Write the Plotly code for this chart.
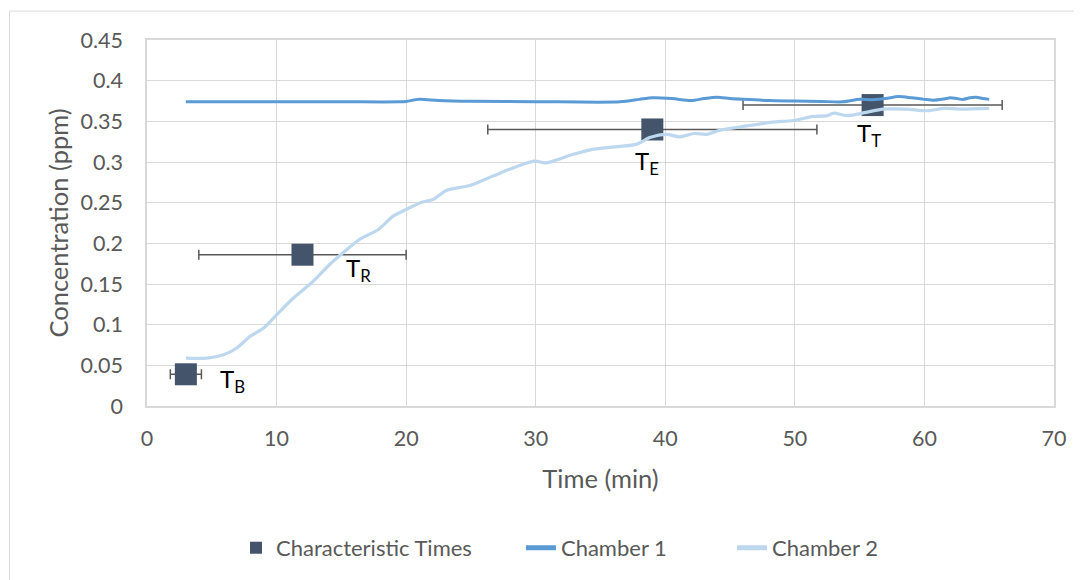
import plotly.graph_objects as go

# Characteristic times (markers with horizontal error bars)
char_t = [3, 12, 39, 56]
char_c = [0.039, 0.186, 0.340, 0.370]
char_err = [1.2, 8, 12.7, 10]
char_labels = ["T<sub>B</sub>", "T<sub>R</sub>", "T<sub>E</sub>", "T<sub>T</sub>"]
label_t = [6.6, 16.3, 38.6, 55.7]
label_c = [0.031, 0.168, 0.300, 0.334]

# Chamber 1
t1 = [3, 5, 10, 15, 19.5, 20, 21, 22.5, 25, 30, 36.5, 38, 39, 40.5, 42, 43, 44, 45, 46,
      48, 50, 52, 53.7, 55, 56, 57, 58, 59, 60, 60.7, 61.5, 62, 62.5, 63, 63.5, 64, 64.5, 65]
c1 = [0.374, 0.374, 0.374, 0.374, 0.374, 0.3745, 0.377, 0.3757, 0.3747, 0.3742, 0.374, 0.377,
      0.379, 0.378, 0.3755, 0.378, 0.3795, 0.378, 0.377, 0.3755, 0.375, 0.3745, 0.374, 0.377,
      0.3765, 0.378, 0.3805, 0.379, 0.377, 0.376, 0.3775, 0.379, 0.378, 0.377, 0.379, 0.3795,
      0.378, 0.377]

# Chamber 2
t2 = [3, 4.6, 5.9, 6.9, 7.95, 9.0, 10.0, 11.3, 12.8, 14.1, 15.4, 16.4, 17.85, 19.0, 20.0,
      21.1, 22.1, 23.1, 24.9, 26.7, 28.3, 29.9, 30.8, 32.9, 34.4, 35.5, 37.8, 38.8, 40.1,
      41.1, 42.2, 43.2, 44.2, 46.3, 48.3, 49.9, 51.4, 52.5, 53.0, 54.0, 55.5, 56.8, 58.6,
      60.2, 61.5, 62.7, 65]
c2 = [0.0588, 0.0588, 0.0629, 0.071, 0.0855, 0.0958, 0.112, 0.1328, 0.153, 0.174, 0.192,
      0.2047, 0.217, 0.2334, 0.2416, 0.25, 0.254, 0.265, 0.271, 0.2827, 0.293, 0.301, 0.299,
      0.3095, 0.3156, 0.3177, 0.322, 0.330, 0.334, 0.331, 0.335, 0.334, 0.339, 0.3444, 0.349,
      0.351, 0.356, 0.357, 0.360, 0.357, 0.361, 0.365, 0.365, 0.363, 0.366, 0.365, 0.366]

x_ticks = [0, 10, 20, 30, 40, 50, 60, 70]
x_ticktext = ["0", "10", "20", "30", "40", "50", "60", "70"]
y_ticks = [0, 0.05, 0.1, 0.15, 0.2, 0.25, 0.3, 0.35, 0.4, 0.45]
y_ticktext = ["0", "0.05", "0.1", "0.15", "0.2", "0.25", "0.3", "0.35", "0.4", "0.45"]

FONT = "Lato"
TXT = "#595959"
GRID = "#D9D9D9"

fig = go.Figure()
fig.add_trace(go.Scatter(
    x=char_t, y=char_c, mode="markers", name="Characteristic Times", legend="legend",
    marker=dict(symbol="square", size=22, color="#44546A"),
    error_x=dict(type="data", array=char_err, symmetric=True, color="#595959",
                 thickness=1.5, width=5),
))
fig.add_trace(go.Scatter(
    x=t1, y=c1, mode="lines", name="Chamber 1", legend="legend2",
    line=dict(color="#5B9BD5", width=3, shape="spline", smoothing=0.8),
))
fig.add_trace(go.Scatter(
    x=t2, y=c2, mode="lines", name="Chamber 2", legend="legend3",
    line=dict(color="#BDD7EE", width=3.2, shape="spline", smoothing=0.8),
))

for lt, lc, lab in zip(label_t, label_c, char_labels):
    fig.add_annotation(x=lt, y=lc, xref="x", yref="y", text=lab, showarrow=False,
                       font=dict(family=FONT, size=24, color="#000000"))

fig.add_shape(type="rect", xref="paper", yref="paper",
              x0=-0.1516, x1=1.04, y0=-0.5, y1=1.079,
              line=dict(color=GRID, width=1), layer="below")

leg_common = dict(orientation="h", xanchor="left", y=-0.384, yanchor="middle",
                  font=dict(family=FONT, size=22, color=TXT), itemsizing="constant",
                  bgcolor="rgba(0,0,0,0)", borderwidth=0)

fig.update_layout(
    width=1074, height=572,
    margin=dict(l=139, r=28, t=32, b=173),
    paper_bgcolor="white", plot_bgcolor="white",
    font=dict(family=FONT, size=20, color=TXT),
    showlegend=True,
    legend=dict(x=0.0981, **leg_common),
    legend2=dict(x=0.4123, **leg_common),
    legend3=dict(x=0.6450, **leg_common),
    xaxis=dict(range=[0, 70], tickvals=x_ticks, ticktext=x_ticktext,
               tickfont=dict(family=FONT, size=21.5, color=TXT),
               showgrid=True, gridcolor=GRID, gridwidth=1,
               showline=True, linecolor=GRID, linewidth=1.5, mirror=True,
               zeroline=False, ticks="outside", ticklen=12, tickcolor="rgba(0,0,0,0)",
               title=dict(text="Time (min)", font=dict(family=FONT, size=25.5, color=TXT),
                          standoff=21)),
    yaxis=dict(range=[0, 0.45], tickvals=y_ticks, ticktext=y_ticktext,
               tickfont=dict(family=FONT, size=21.5, color=TXT),
               showgrid=True, gridcolor=GRID, gridwidth=1,
               showline=True, linecolor=GRID, linewidth=1.5, mirror=True,
               zeroline=False, ticks="outside", ticklen=18, tickcolor="rgba(0,0,0,0)",
               title=dict(text="Concentration (ppm)", font=dict(family=FONT, size=25.5, color=TXT),
                          standoff=5)),
)

fig.write_html("out.html")
